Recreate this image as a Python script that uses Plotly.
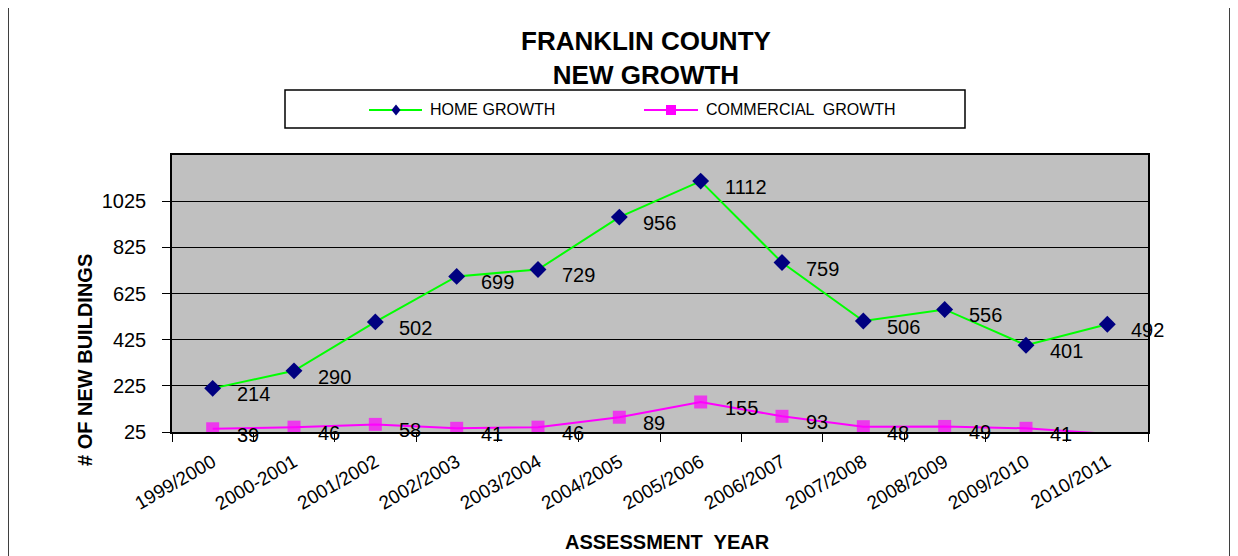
import plotly.graph_objects as go

years = ["1999/2000", "2000-2001", "2001/2002", "2002/2003", "2003/2004", "2004/2005",
         "2005/2006", "2006/2007", "2007/2008", "2008/2009", "2009/2010", "2010/2011"]
home_growth = [214, 290, 502, 699, 729, 956, 1112, 759, 506, 556, 401, 492]
commercial_growth = [39, 46, 58, 41, 46, 89, 155, 93, 48, 49, 41, 17]
y_ticks = [25, 225, 425, 625, 825, 1025]
y_min, y_max = 25, 1225

FONT = "Liberation Sans, Arial, sans-serif"
OFF = 8  # page body margin
W, H = 1238 - OFF, 556 - OFF
ML, MR, MT, MB = 172 - OFF, 1238 - 1148, 155 - OFF, 556 - 432
PW, PH = W - ML - MR, H - MT - MB

HOME_LINE, HOME_MARK = "#00FF00", "#000080"
COMM = "#FF00FF"


def px_x(px):
    return (px - OFF - ML) / PW


def px_y(py):
    return (H - MB - (py - OFF)) / PH


fig = go.Figure()
fig.add_trace(go.Scatter(
    x=years, y=home_growth, name="HOME GROWTH", mode="lines+markers",
    line=dict(color=HOME_LINE, width=2),
    marker=dict(symbol="diamond", color=HOME_MARK, size=13, line=dict(width=0)),
))
fig.add_trace(go.Scatter(
    x=years, y=commercial_growth, name="COMMERCIAL  GROWTH", mode="lines+markers",
    line=dict(color=COMM, width=2),
    marker=dict(symbol="square", color=COMM,
                size=[13 if v >= y_min else 0 for v in commercial_growth], line=dict(width=0)),
))

annotations = []
for series in (home_growth, commercial_growth):
    for cat, v in zip(years, series):
        if v < y_min:
            continue
        annotations.append(dict(
            x=cat, y=v, xref="x", yref="y", text=str(v), showarrow=False,
            xanchor="left", yanchor="middle", xshift=22, yshift=-6,
            font=dict(family=FONT, size=20, color="black"),
        ))

# title
annotations.append(dict(
    x=px_x(646), y=px_y(58), xref="paper", yref="paper", showarrow=False,
    text="<b>FRANKLIN COUNTY<br>NEW GROWTH</b>", xanchor="center", yanchor="middle",
    font=dict(family=FONT, size=26, color="black"),
))
# axis titles
annotations.append(dict(
    x=px_x(85), y=px_y(360), xref="paper", yref="paper", showarrow=False, textangle=-90,
    text="<b># OF NEW BUILDINGS</b>", xanchor="center", yanchor="middle",
    font=dict(family=FONT, size=20, color="black"),
))
annotations.append(dict(
    x=px_x(667), y=px_y(542), xref="paper", yref="paper", showarrow=False,
    text="<b>ASSESSMENT  YEAR</b>", xanchor="center", yanchor="middle",
    font=dict(family=FONT, size=20, color="black"),
))
# legend texts
LEG_Y = 110
annotations.append(dict(
    x=px_x(428), y=px_y(LEG_Y), xref="paper", yref="paper", showarrow=False,
    text="HOME GROWTH", xanchor="left", yanchor="middle",
    font=dict(family=FONT, size=16, color="black"),
))
annotations.append(dict(
    x=px_x(704), y=px_y(LEG_Y), xref="paper", yref="paper", showarrow=False,
    text="COMMERCIAL  GROWTH", xanchor="left", yanchor="middle",
    font=dict(family=FONT, size=16, color="black"),
))

ly = px_y(LEG_Y)
dx1, dy1 = 4.5 / PW, 5.5 / PH
sx, sy = 5 / PW, 5 / PH
hx, cx = px_x(396), px_x(671)
shapes = [
    dict(type="rect", xref="paper", yref="paper",
         x0=px_x(8), x1=px_x(1230), y0=px_y(575), y1=px_y(3),
         line=dict(color="black", width=1.5), fillcolor="rgba(0,0,0,0)", layer="below"),
    dict(type="rect", xref="paper", yref="paper",
         x0=px_x(285), x1=px_x(965), y0=px_y(128), y1=px_y(90),
         line=dict(color="black", width=1.5), fillcolor="white", layer="below"),
    dict(type="line", xref="paper", yref="paper", x0=px_x(369), x1=px_x(422), y0=ly, y1=ly,
         line=dict(color=HOME_LINE, width=2)),
    dict(type="path", xref="paper", yref="paper",
         path=f"M {hx-dx1} {ly} L {hx} {ly+dy1} L {hx+dx1} {ly} L {hx} {ly-dy1} Z",
         fillcolor=HOME_MARK, line=dict(width=0)),
    dict(type="line", xref="paper", yref="paper", x0=px_x(644), x1=px_x(698), y0=ly, y1=ly,
         line=dict(color=COMM, width=2)),
    dict(type="rect", xref="paper", yref="paper", x0=cx - sx, x1=cx + sx, y0=ly - sy, y1=ly + sy,
         fillcolor=COMM, line=dict(width=0)),
]

fig.update_layout(
    width=W, height=H,
    margin=dict(l=ML, r=MR, t=MT, b=MB, autoexpand=False),
    paper_bgcolor="white", plot_bgcolor="#C0C0C0",
    font=dict(family=FONT, color="black"),
    showlegend=False,
    annotations=annotations, shapes=shapes,
    xaxis=dict(type="category", range=[-0.5, len(years) - 0.5], tickson="boundaries",
               ticks="outside", ticklen=8, tickcolor="black", showline=True, linecolor="black",
               linewidth=1.5, mirror=True, showgrid=False, tickangle=-30,
               tickfont=dict(family=FONT, size=19), ticklabelstandoff=10),
    yaxis=dict(range=[y_min, y_max], tickvals=y_ticks, ticks="outside", ticklen=8,
               tickcolor="black", showline=True, linecolor="black", linewidth=1.5, mirror=True,
               showgrid=True, gridcolor="black", gridwidth=1, zeroline=False,
               tickfont=dict(family=FONT, size=20), ticklabelstandoff=12),
)

fig.write_html("out.html")
